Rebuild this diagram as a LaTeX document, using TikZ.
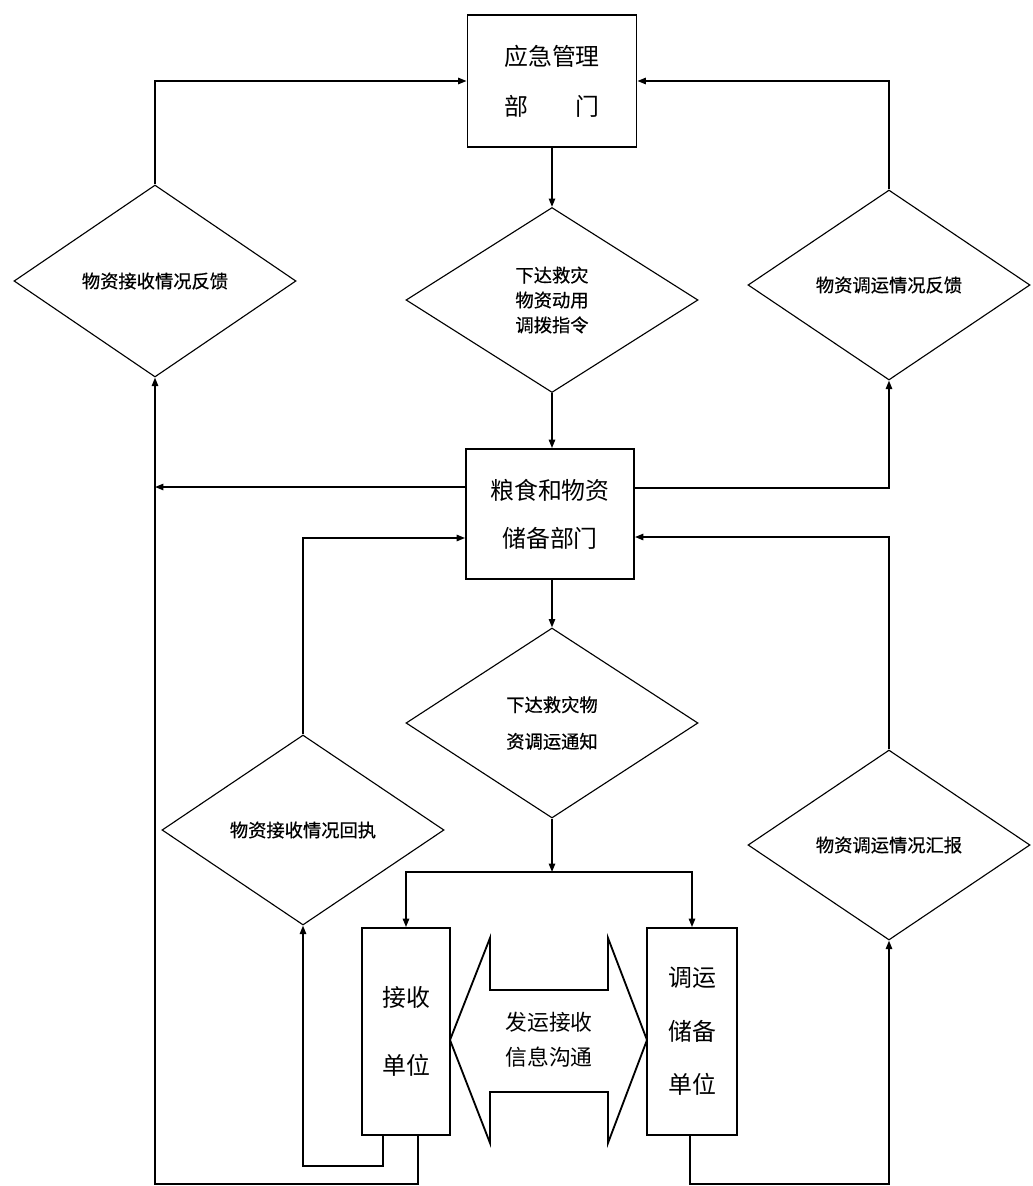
\documentclass[tikz,border=0pt]{standalone}
\usepackage{fontspec}
\setmainfont{Noto Sans CJK SC}
\newfontfamily\diafont[FakeBold=0.6]{Noto Sans CJK SC}
\usetikzlibrary{shapes.geometric,calc,arrows.meta}
\newcommand{\pxu}{0.025cm}

\begin{document}
\begin{tikzpicture}[x=0.025cm,y=-0.025cm,>={Triangle[length=6pt,width=4.5pt]},
    box/.style={draw,line width=1.3pt,inner sep=0pt,align=center},
    dia/.style={draw,diamond,line width=0.8pt,inner sep=0pt,align=center,
        minimum width=282*\pxu,minimum height=190*\pxu,font=\diafont\fontsize{13}{17.7}\selectfont},
    conn/.style={line width=1.2pt}]
    \useasboundingbox (0,0) rectangle (1033,1186);

    \node[box,minimum width=169*\pxu,minimum height=132*\pxu,font=\fontsize{17}{35.5}\selectfont] (M1) at (552,81) {应急管理\\部　　门};
    \node[box,minimum width=168*\pxu,minimum height=130*\pxu,font=\fontsize{17}{34}\selectfont] (M2) at (550,514) {粮食和物资\\储备部门};
    \node[box,minimum width=88*\pxu,minimum height=207*\pxu,font=\fontsize{17}{48}\selectfont] (U1) at (406,1031.5) {接收\\单位};
    \node[box,minimum width=90*\pxu,minimum height=207*\pxu,font=\fontsize{17}{38}\selectfont] (U2) at (692,1031.5) {调运\\储备\\单位};

    \node[dia,minimum height=192*\pxu] (D1) at (155,281) {物资接收情况反馈};
    \node[dia,minimum width=292*\pxu,minimum height=185*\pxu] (D2) at (552,300) {下达救灾\\物资动用\\调拨指令};
    \node[dia] (D3) at (889,285) {物资调运情况反馈};
    \node[dia,minimum width=292*\pxu,font=\diafont\fontsize{13}{26}\selectfont] (D4) at (552,723) {下达救灾物\\资调运通知};
    \node[dia] (D5) at (303,830) {物资接收情况回执};
    \node[dia] (D6) at (889,845) {物资调运情况汇报};

    % double arrow between the two units
    \draw[line width=1.3pt] (450,1040) -- (490,938) -- (490,990) -- (608,990) -- (608,938)
        -- (647,1040) -- (608,1143) -- (608,1092) -- (490,1092) -- (490,1143) -- cycle;
    \node[font=\fontsize{15.5}{25}\selectfont,align=center] (T) at (549,1040) {发运接收\\信息沟通};

    \coordinate (J) at (552,872);

    \draw[conn,->] (M1.south -| D2) -- (D2.north);
    \draw[conn,->] (D2.south) -- (D2.south |- M2.north);
    \draw[conn,->] (D1.north) |- (M1.west);
    \draw[conn,->] (D3.north) |- (M1.east);
    \draw[conn,->] ($(M2.west)+(0,-27)$) coordinate (p1) -- (p1 -| D1.south);
    \draw[conn,->] ($(M2.east)+(0,-26)$) -| (D3.south);
    \draw[conn,->] (D5.north) |- ($(M2.west)+(0,24)$);
    \draw[conn,->] (D6.north) |- ($(M2.east)+(0,23)$);
    \draw[conn,->] (D4.north |- M2.south) -- (D4.north);
    \draw[conn,->] (D4.south) -- (J);
    \draw[conn,->] (J) -| (U1.north);
    \draw[conn,->] (J) -| (U2.north);
    \draw[conn,->] ($(U1.south)+(-23,0)$) -- ++(0,30) -| (D5.south);
    \draw[conn,->] ($(U1.south)+(12,0)$) -- ++(0,48) -| (D1.south);
    \draw[conn,->] ($(U2.south)+(-2,0)$) -- ++(0,48) -| (D6.south);
\end{tikzpicture}
\end{document}
